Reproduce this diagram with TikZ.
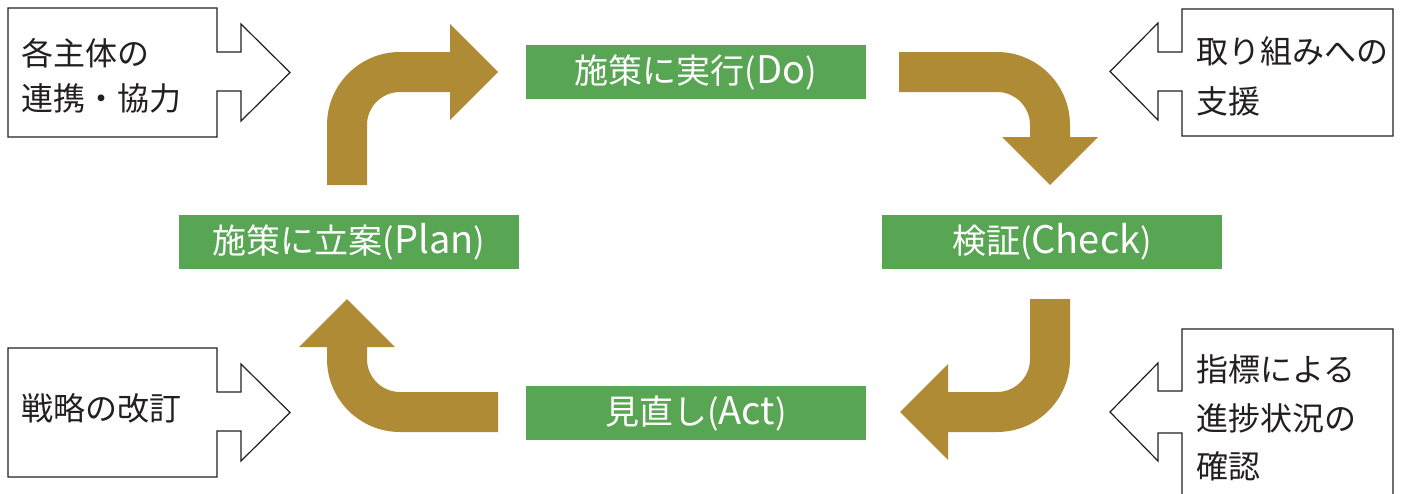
\documentclass[tikz,border=0pt]{standalone}
\usepackage{fontspec}
\setmainfont{Noto Sans CJK JP}
\definecolor{gold}{HTML}{B08B36}
\definecolor{leaf}{HTML}{58A553}
\definecolor{inkc}{HTML}{231F20}
\newcommand{\latn}[1]{{\fontsize{38}{38}\selectfont #1}}
\begin{document}
\begin{tikzpicture}[x=1pt,y=-1pt,
  phase/.style={fill=leaf, text=white, minimum width=340pt, minimum height=54pt, inner sep=0pt, font=\fontsize{34}{34}\selectfont},
  flow/.style={fill=gold, draw=none},
  callout/.style={draw=inkc, line width=1.2pt, fill=white, line join=miter},
  lbl/.style={anchor=base west, inner sep=0pt, text=inkc, font=\fontsize{32}{32}\selectfont}]
\useasboundingbox (0,0) rectangle (1401,493);
\clip (0,0) rectangle (1401,493);

% phase boxes
\node[phase] (do)    at (696,72)  {施策に実行(\latn{Do})};
\node[phase] (plan)  at (349,242) {施策に立案(\latn{Plan})};
\node[phase] (check) at (1052,242) {検証(\latn{Check})};
\node[phase] (act)   at (696,413) {見直し(\latn{Act})};

% curved block arrows
\fill[flow] (327,185) -- (327,125) arc[start angle=180,end angle=270,radius=73]
  -- (450,52) -- (450,24) -- (498,72) -- (450,120) -- (450,92) -- (400,92)
  arc[start angle=270,end angle=180,radius=33] -- (367,185) -- cycle;
\fill[flow] (899,52) -- (997,52) arc[start angle=270,end angle=360,radius=73]
  -- (1070,137) -- (1098,137) -- (1050,185) -- (1002,137) -- (1030,137) -- (1030,125)
  arc[start angle=0,end angle=-90,radius=33] -- (899,92) -- cycle;
\fill[flow] (1070,299) -- (1070,359) arc[start angle=0,end angle=90,radius=73]
  -- (948,432) -- (948,460) -- (900,412) -- (948,364) -- (948,392) -- (997,392)
  arc[start angle=90,end angle=0,radius=33] -- (1030,299) -- cycle;
\fill[flow] (498,432) -- (400,432) arc[start angle=90,end angle=180,radius=73]
  -- (327,347) -- (299,347) -- (347,299) -- (395,347) -- (367,347) -- (367,359)
  arc[start angle=180,end angle=90,radius=33] -- (498,392) -- cycle;

% callouts
\draw[callout] (8,8) -- (217,8) -- (217,52) -- (241,52) -- (241,24) -- (290,72.5)
  -- (241,121) -- (241,91) -- (217,91) -- (217,137) -- (8,137) -- cycle;
\draw[callout] (8,348) -- (217,348) -- (217,392) -- (241,392) -- (241,364) -- (290,412.5)
  -- (241,461) -- (241,431) -- (217,431) -- (217,477) -- (8,477) -- cycle;
\draw[callout] (1393,9) -- (1182,9) -- (1182,52) -- (1158,52) -- (1158,23) -- (1110,71.5)
  -- (1158,120) -- (1158,91) -- (1182,91) -- (1182,136) -- (1393,136) -- cycle;
\draw[callout] (1393,329) -- (1182,329) -- (1182,391) -- (1158,391) -- (1158,363) -- (1110,412)
  -- (1158,461) -- (1158,433) -- (1182,433) -- (1182,510) -- (1393,510) -- cycle;

% callout texts
\node[lbl] (tl1) at (21,65)  {各主体の};
\node[lbl] (tl2) at (21,110) {連携・協力};
\node[lbl] (bl1) at (21,420) {戦略の改訂};
\node[lbl] (tr1) at (1196,63)  {取り組みへの};
\node[lbl] (tr2) at (1196,113) {支援};
\node[lbl] (br1) at (1196,381) {指標による};
\node[lbl] (br2) at (1196,430) {進捗状況の};
\node[lbl] (br3) at (1196,478) {確認};
\end{tikzpicture}
\end{document}
